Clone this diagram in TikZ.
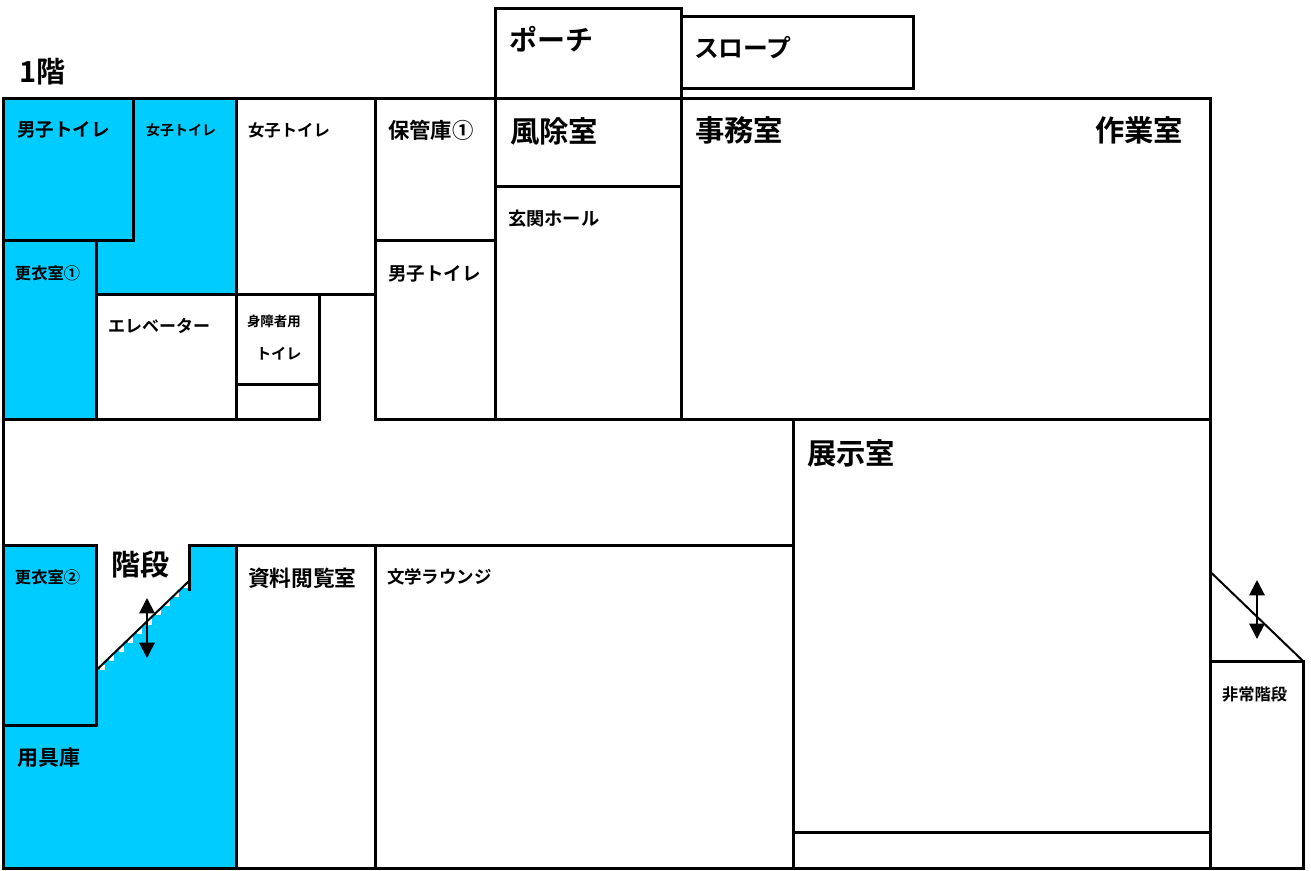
\documentclass[tikz,border=0pt]{standalone}
\usepackage{fontspec}
\setmainfont{Noto Sans CJK JP Bold}
\usetikzlibrary{arrows.meta}
\definecolor{roomblue}{HTML}{00CCFF}
\tikzset{
  wall/.style={line width=2.25pt,black,line cap=rect},
  thinwall/.style={line width=1.5pt,black},
  updown/.style={line width=1.5pt,black,{Triangle[width=11.5pt,length=11.5pt]}-{Triangle[width=11.5pt,length=11.5pt]}},
  lab/.style={anchor=west,inner sep=0pt,outer sep=0pt,text=black}
}
\newcommand{\lab}[4]{\node[lab] (#1) at (#2) {\fontsize{#3pt}{#3pt}\selectfont\vphantom{男}#4};}
\begin{document}
\begin{tikzpicture}[x=0.75pt,y=-0.75pt]
\useasboundingbox (0,0) rectangle (1311,871);
\fill[white] (0,0) rectangle (1311,871);
% blue rooms
\fill[roomblue] (3.5,98) -- (236,98) -- (236,294.5) -- (96.5,294.5) -- (96.5,419) -- (3.5,419) -- cycle;
\fill[roomblue] (3.5,545.5) -- (96.5,545.5) -- (96.5,670) -- (189,581) -- (189,545.5) -- (236,545.5) -- (236,868) -- (3.5,868) -- cycle;
% white stair teeth under the slanted line
\foreach \i in {0,...,9}{
  \fill[white] ({100+9.3*\i},{670-9.1*\i}) rectangle ({105+9.3*\i},{664.5-9.1*\i});
}
% walls
\draw[wall] (3.5,98) rectangle (1210.5,868);
\draw[wall] (495,98) -- (495,8) -- (681.5,8) -- (681.5,98);
\draw[wall] (681.5,16) -- (913.5,16) -- (913.5,88.5) -- (681.5,88.5);
\draw[wall] (133.5,98) -- (133.5,240.5) -- (3.5,240.5);
\draw[wall] (96.5,240.5) -- (96.5,419);
\draw[wall] (236,98) -- (236,419);
\draw[wall] (375,98) -- (375,419);
\draw[wall] (495,98) -- (495,419);
\draw[wall] (681.5,98) -- (681.5,419);
\draw[wall] (96.5,294.5) -- (375,294.5);
\draw[wall] (319.5,294.5) -- (319.5,419);
\draw[wall] (236,384) -- (319.5,384);
\draw[wall] (375,240.5) -- (495,240.5);
\draw[wall] (495,186) -- (681.5,186);
\draw[wall] (3.5,419) -- (319.5,419);
\draw[wall] (375,419) -- (1210.5,419);
\draw[wall] (793.5,419) -- (793.5,868);
\draw[wall] (793.5,832.5) -- (1210.5,832.5);
\draw[wall] (3.5,545.5) -- (96.5,545.5) -- (96.5,725) -- (3.5,725);
\draw[wall] (189,589) -- (189,545.5) -- (793.5,545.5);
\draw[wall] (236,545.5) -- (236,868);
\draw[wall] (375,545.5) -- (375,868);
\draw[wall] (1210.5,661) -- (1303,661) -- (1303,868) -- (1210.5,868);
% slanted stair lines and arrows
\draw[thinwall] (96.5,670) -- (189,581);
\draw[thinwall] (1210.5,572) -- (1303,661);
\draw[updown] (147,598) -- (147,658);
\draw[updown] (1257,580) -- (1257,639);
% labels
\lab{floor}{19,72}{21.75}{1階}
\lab{porch}{509,40}{21}{ポーチ}
\lab{slope}{694,48}{18.6}{スロープ}
\lab{mwc}{17,130}{13.9}{男子トイレ}
\lab{wwca}{146,130}{10.5}{女子トイレ}
\lab{wwcb}{248,130}{12.3}{女子トイレ}
\lab{store}{388,130}{16}{保管庫①}
\lab{wind}{510,131}{22}{風除室}
\lab{office}{695,130}{22}{事務室}
\lab{work}{1095,130}{22}{作業室}
\lab{hall}{508,219}{13.7}{玄関ホール}
\lab{lockera}{15,273}{12.2}{更衣室①}
\lab{mwcb}{388,274}{13.9}{男子トイレ}
\lab{elev}{108,326}{12.75}{エレベーター}
\lab{hc}{247,321}{10.1}{身障者用}
\lab{hcwc}{256,354}{11.4}{トイレ}
\lab{exhibit}{807,453}{22}{展示室}
\lab{stairs}{111,565}{21.75}{階段}
\lab{lockerb}{15,577}{12.2}{更衣室②}
\lab{reading}{248,578}{16.3}{資料閲覧室}
\lab{lounge}{387,577}{13.1}{文学ラウンジ}
\lab{tools}{17,758}{15.75}{用具庫}
\lab{emerg}{1222,694}{12.2}{非常階段}
\end{tikzpicture}
\end{document}
